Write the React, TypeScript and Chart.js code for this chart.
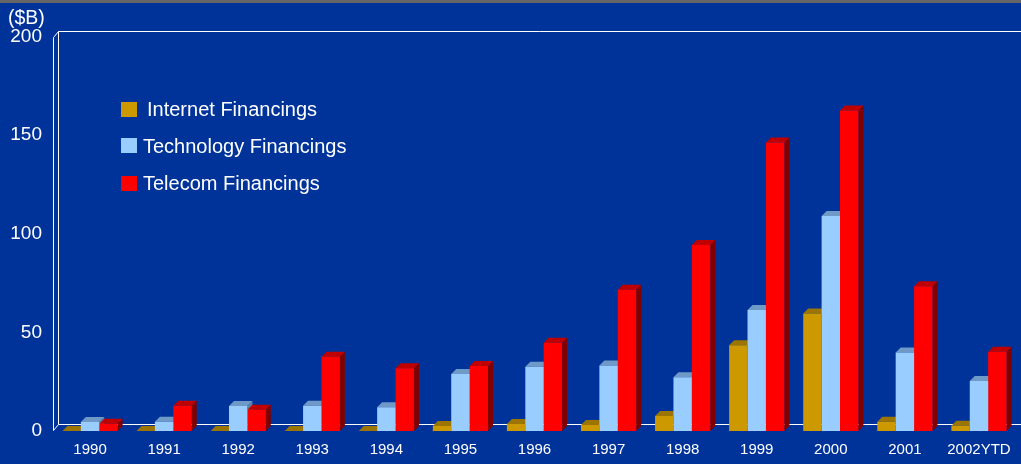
import React, { useEffect, useRef } from 'react';
import { Chart, registerables } from 'chart.js';

Chart.register(...registerables);

const categories = ['1990', '1991', '1992', '1993', '1994', '1995', '1996', '1997', '1998', '1999', '2000', '2001', '2002YTD'];
const internetFinancings = [0, 0, 0, 0, 0, 2.5, 3.5, 3, 7.6, 43.5, 59.6, 4.7, 2.7];
const technologyFinancings = [4.6, 4.7, 12.7, 12.8, 12, 28.9, 32.6, 33.2, 27.2, 61.3, 109, 39.8, 25.3];
const telecomFinancings = [3.7, 12.8, 10.8, 37.7, 31.8, 32.9, 44.7, 71.6, 94.3, 146.2, 162.5, 73.4, 40.2];
const yTickValues = [0, 50, 100, 150, 200];
const seriesLabels = ['Internet Financings', 'Technology Financings', 'Telecom Financings'];
const unitLabel = '($B)';

const BG = '#003399';
const frontColors = ['#CC9900', '#99CCFF', '#FF0000'];
const topColors = ['#9C7400', '#6F99C6', '#C00000'];
const sideColors = ['#8A6600', '#5C82AA', '#800000'];
const FONT = '"Liberation Sans", Arial, sans-serif';
const DX = 5;
const DY = 5;

const poly = (ctx: CanvasRenderingContext2D, pts: number[][], color: string) => {
  ctx.beginPath();
  ctx.moveTo(pts[0][0], pts[0][1]);
  for (let i = 1; i < pts.length; i++) ctx.lineTo(pts[i][0], pts[i][1]);
  ctx.closePath();
  ctx.fillStyle = color;
  ctx.fill();
};

const threeDPlugin = {
  id: 'threeD',
  beforeDraw(chart: any) {
    const ctx = chart.ctx as CanvasRenderingContext2D;
    ctx.save();
    ctx.fillStyle = BG;
    ctx.fillRect(0, 0, chart.width, chart.height);
    ctx.fillStyle = '#666666';
    ctx.fillRect(0, 0, chart.width, 3);
    ctx.restore();
  },
  beforeDatasetsDraw(chart: any) {
    const ctx = chart.ctx as CanvasRenderingContext2D;
    const { left } = chart.chartArea;
    const yScale = chart.scales.y;
    const top = yScale.getPixelForValue(200);
    const bottom = yScale.getPixelForValue(0);
    const wdx = 5;
    const wdy = 6;
    ctx.save();
    ctx.strokeStyle = '#FFFFFF';
    ctx.lineWidth = 1;
    const L = Math.round(left) + 0.5;
    const T = Math.round(top) + 0.5;
    const B = Math.round(bottom) - 0.5;
    ctx.beginPath();
    ctx.moveTo(L, B);
    ctx.lineTo(L, T);
    ctx.lineTo(L + wdx, T - wdy);
    ctx.lineTo(chart.width, T - wdy);
    ctx.moveTo(L + wdx, T - wdy);
    ctx.lineTo(L + wdx, B - wdy);
    ctx.lineTo(chart.width, B - wdy);
    ctx.moveTo(L, B);
    ctx.lineTo(L + wdx, B - wdy);
    ctx.stroke();

    chart.data.datasets.forEach((_ds: any, i: number) => {
      const meta = chart.getDatasetMeta(i);
      meta.data.forEach((el: any) => {
        const { x, y, base, width } = el.getProps(['x', 'y', 'base', 'width'], true);
        const l = x - width / 2;
        const r = x + width / 2;
        poly(ctx, [[r, y], [r + DX, y - DY], [r + DX, base - DY], [r, base]], sideColors[i]);
        poly(ctx, [[l, y], [r, y], [r + DX, y - DY], [l + DX, y - DY]], topColors[i]);
      });
    });
    ctx.restore();
  },
  afterDraw(chart: any) {
    const ctx = chart.ctx as CanvasRenderingContext2D;
    ctx.save();
    ctx.fillStyle = '#FFFFFF';
    ctx.font = `19.5px ${FONT}`;
    ctx.textAlign = 'left';
    ctx.textBaseline = 'alphabetic';
    ctx.fillText(unitLabel, 8, 24);

    const rows = [
      { sq: 102, base: 116, tx: 147 },
      { sq: 138, base: 153, tx: 143 },
      { sq: 176, base: 190, tx: 143 },
    ];
    ctx.font = `20px ${FONT}`;
    seriesLabels.forEach((label, i) => {
      ctx.fillStyle = frontColors[i];
      ctx.fillRect(121, rows[i].sq, 16, 15);
      ctx.fillStyle = '#FFFFFF';
      ctx.fillText(label, rows[i].tx, rows[i].base);
    });
    ctx.restore();
  },
};

export default function App() {
  const canvasRef = useRef<HTMLCanvasElement | null>(null);

  useEffect(() => {
    document.body.style.margin = '0';
    const canvas = canvasRef.current;
    if (!canvas) return;
    const chart = new Chart(canvas, {
      type: 'bar',
      data: {
        labels: categories,
        datasets: [
          { label: seriesLabels[0], data: internetFinancings, backgroundColor: frontColors[0] },
          { label: seriesLabels[1], data: technologyFinancings, backgroundColor: frontColors[1] },
          { label: seriesLabels[2], data: telecomFinancings, backgroundColor: frontColors[2] },
        ].map((d) => ({ ...d, borderWidth: 0, categoryPercentage: 0.745, barPercentage: 1 })),
      },
      options: {
        responsive: false,
        animation: false,
        devicePixelRatio: 1,
        layout: { padding: { top: 36.5, right: 5, left: 0, bottom: 0 } },
        plugins: {
          legend: { display: false },
          tooltip: { enabled: false },
          title: { display: false },
        },
        scales: {
          x: {
            grid: { display: false, drawTicks: false },
            border: { display: false },
            ticks: {
              color: '#FFFFFF',
              font: { family: FONT, size: 15 },
              padding: 10,
              maxRotation: 0,
              autoSkip: false,
            },
            afterFit: (s: any) => {
              s.height = 33;
            },
          },
          y: {
            min: 0,
            max: 200,
            grid: { display: false, drawTicks: false },
            border: { display: false },
            ticks: {
              color: '#FFFFFF',
              font: { family: FONT, size: 19 },
              padding: 11,
            },
            afterBuildTicks: (s: any) => {
              s.ticks = yTickValues.map((v) => ({ value: v }));
            },
            afterFit: (s: any) => {
              s.width = 53;
            },
          },
        },
      },
      plugins: [threeDPlugin],
    } as any);
    return () => chart.destroy();
  }, []);

  return (
    <div style={{ width: 1021, height: 464, background: BG }}>
      <canvas ref={canvasRef} width={1021} height={464} style={{ display: 'block' }} />
    </div>
  );
}
